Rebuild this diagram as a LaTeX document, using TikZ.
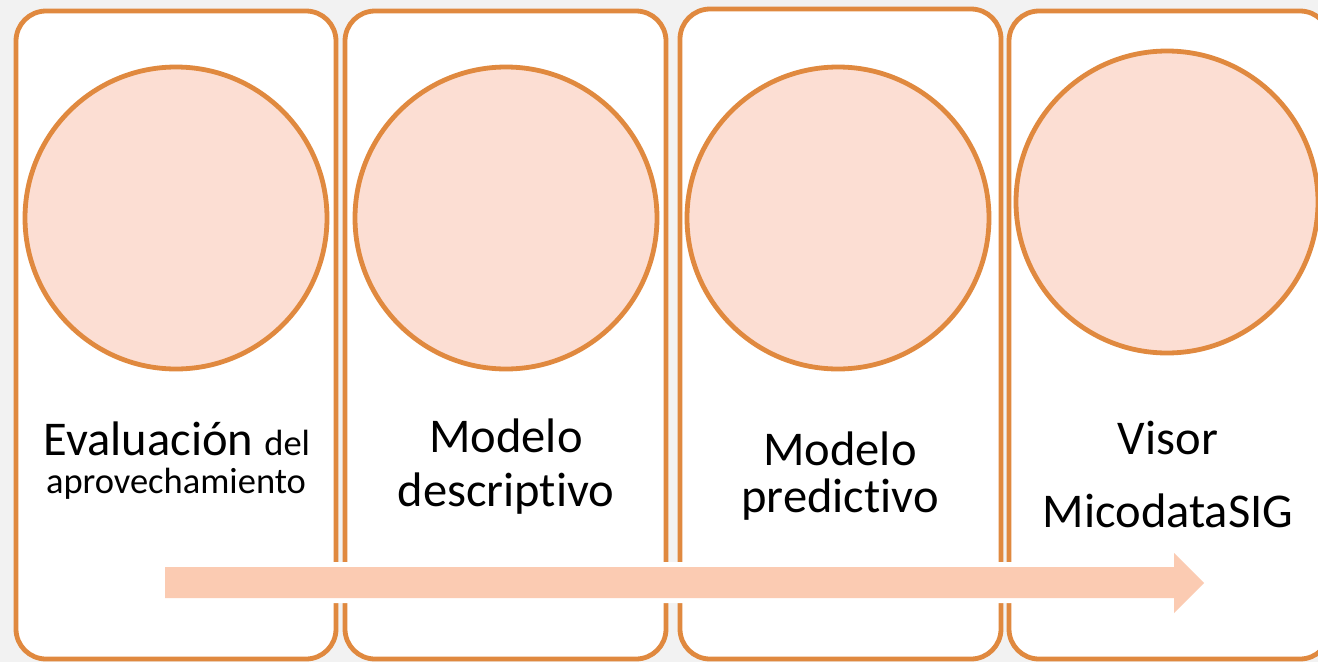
\documentclass[tikz,border=0pt]{standalone}
\usepackage{fontspec}
\setmainfont[Ligatures={NoCommon}]{Carlito}
\definecolor{bg}{HTML}{F2F2F2}
\definecolor{orangeline}{HTML}{E0893F}
\definecolor{circfill}{HTML}{FCDED3}
\definecolor{arrowfill}{HTML}{FBCBB2}
\begin{document}
\begin{tikzpicture}[x=1pt,y=-1pt,
  panel/.style={draw=orangeline, line width=4.8pt, fill=white, rounded corners=30pt, inner sep=0pt, outer sep=0pt},
  disc/.style={circle, draw=orangeline, line width=4.8pt, fill=circfill, minimum size=302pt, inner sep=0pt},
  big/.style={anchor=base, inner sep=0pt, font=\fontsize{48.5}{58}\selectfont},
  small/.style={anchor=base, inner sep=0pt, font=\fontsize{36.5}{44}\selectfont}]
\useasboundingbox (0,0) rectangle (1318,662);
\clip (0,0) rectangle (1318,662);
\fill[bg] (0,0) rectangle (1318,662);
% panels
\node[panel, minimum width=320pt, minimum height=648pt] (b1) at (176,335) {};
\node[panel, minimum width=321pt, minimum height=648pt] (b2) at (505.5,335) {};
\node[panel, minimum width=321pt, minimum height=650pt] (b3) at (840.5,334) {};
\node[panel, minimum width=321pt, minimum height=648pt] (b4) at (1169.5,335) {};
% circles
\node[disc] (c1) at (176,218) {};
\node[disc] (c2) at (506,218) {};
\node[disc] (c3) at (838,218) {};
\node[disc] (c4) at (1167,202) {};
% texts
\node[anchor=base, inner sep=0pt] (t1a) at (177,455) {\fontsize{48.5}{58}\selectfont Evaluación \fontsize{36.5}{44}\selectfont del};
\node[small] (t1b) at (176,493) {aprovechamiento};
\node[big] (t2a) at (506,452) {Modelo};
\node[big] (t2b) at (506,506) {descriptivo};
\node[big] (t3a) at (840,465) {Modelo};
\node[big] (t3b) at (840,512) {predictivo};
\node[big] (t4a) at (1168,454) {Visor};
\node[big] (t4b) at (1168,527) {MicodataSIG};
% arrow
\coordinate (a1) at (165,567);
\coordinate (a2) at (1174,567);
\coordinate (a3) at (1174,553);
\coordinate (a4) at (1204,583);
\coordinate (a5) at (1174,613);
\coordinate (a6) at (1174,598);
\coordinate (a7) at (165,598);
\draw[white, line width=10pt, line join=miter] (a1) -- (a2) -- (a3) -- (a4) -- (a5) -- (a6) -- (a7) -- cycle;
\fill[arrowfill] (a1) -- (a2) -- (a3) -- (a4) -- (a5) -- (a6) -- (a7) -- cycle;
\end{tikzpicture}
\end{document}
